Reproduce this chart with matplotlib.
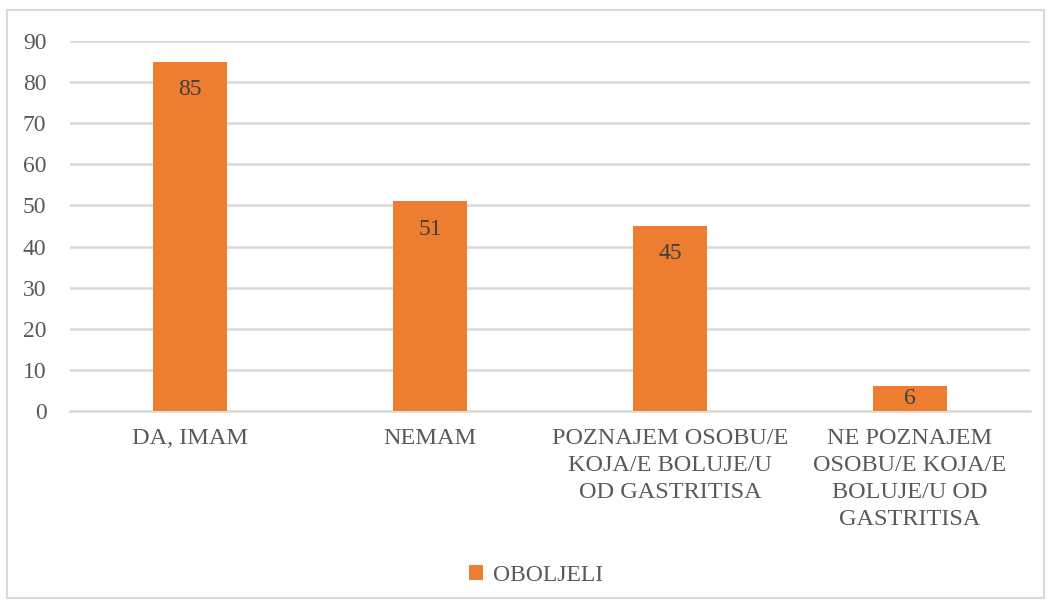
import matplotlib.pyplot as plt
from matplotlib.patches import Rectangle

categories = ['DA, IMAM', 'NEMAM', 'POZNAJEM OSOBU/E\nKOJA/E BOLUJE/U\nOD GASTRITISA',
              'NE POZNAJEM\nOSOBU/E KOJA/E\nBOLUJE/U OD\nGASTRITISA']
values = [85, 51, 45, 6]
series_name = 'OBOLJELI'

plt.rcParams['font.family'] = ['Liberation Serif', 'DejaVu Serif']

fig = plt.figure(figsize=(10.51, 6.04), dpi=100)
ax = fig.add_axes([0.0666, 0.3195, 0.9134, 0.6125])

x = range(len(categories))
bars = ax.bar(x, values, width=0.31, color='#ED7D31', label=series_name, zorder=3)
# label inside the bar end; short bars get it centred
for b, v in zip(bars, values):
    y = v - 6.8 if v > 13.6 else v / 2
    ax.text(b.get_x() + b.get_width() / 2, y, str(v), ha='center', va='center',
            fontsize=17, color='#404040', zorder=4)

ax.set_xlim(-0.5, len(categories) - 0.5)
ax.set_ylim(0, 90)
ax.set_yticks(range(0, 91, 10))
ax.yaxis.grid(True, color='#D9D9D9', linewidth=1.8, zorder=0)
ax.set_xticks(list(x))
ax.set_xticklabels(categories, fontsize=17.5, color='#595959', linespacing=1.38)
ax.tick_params(axis='x', length=0, pad=12)
ax.tick_params(axis='y', length=0, pad=17, labelsize=17, labelcolor='#595959')
for s in ['top', 'right', 'left']:
    ax.spines[s].set_visible(False)
ax.spines['bottom'].set_color('#D9D9D9')
ax.spines['bottom'].set_linewidth(1.8)

fig.legend(loc='center', bbox_to_anchor=(0.51, 0.048), frameon=False,
           prop={'size': 17}, handlelength=0.6, handleheight=0.6, handletextpad=0.4,
           labelcolor='#595959')

fig.patches.append(Rectangle((0.007, 0.01), 0.986, 0.973, transform=fig.transFigure,
                             fill=False, edgecolor='#D9D9D9', linewidth=1.5))

fig.savefig('out.png', dpi=100)
